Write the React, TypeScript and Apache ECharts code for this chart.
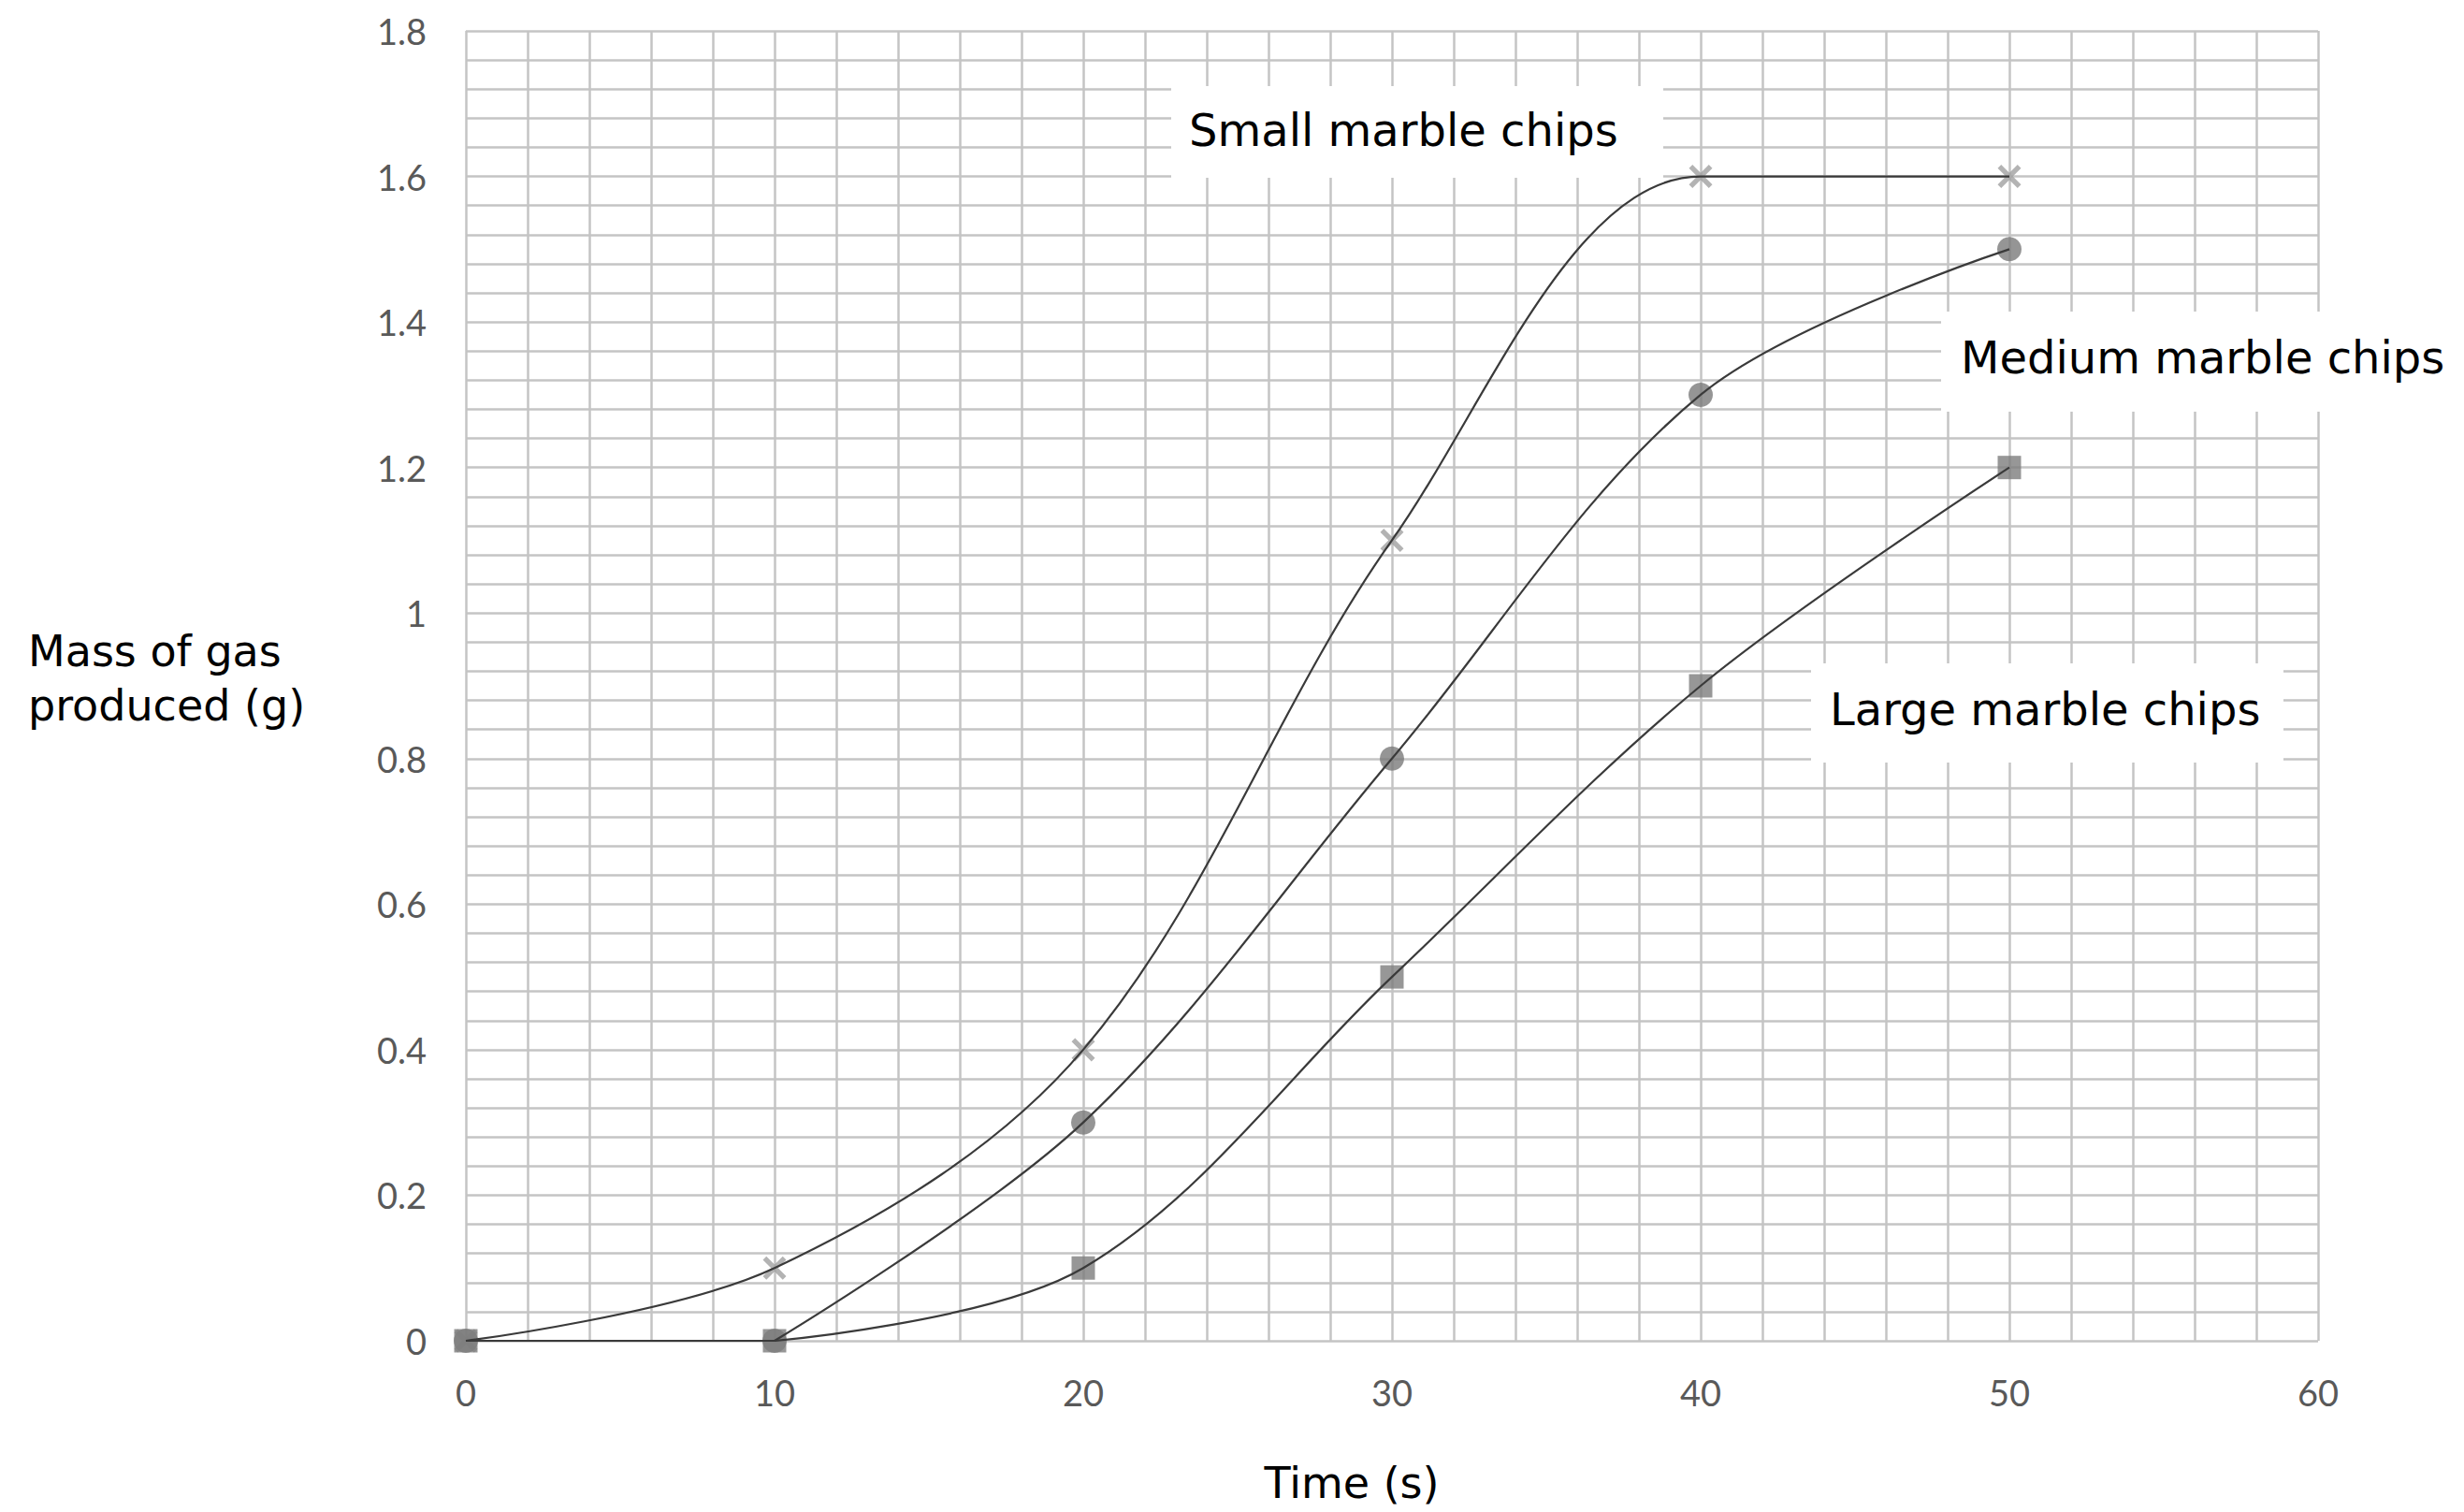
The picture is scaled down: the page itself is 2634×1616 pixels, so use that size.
import React, { useEffect, useRef } from "react";
import * as echarts from "echarts";

// ---- data ----
const times = [0, 10, 20, 30, 40, 50];
const smallChips = [0, 0.1, 0.4, 1.1, 1.6, 1.6];
const mediumChips = [0, 0, 0.3, 0.8, 1.3, 1.5];
const largeChips = [0, 0, 0.1, 0.5, 0.9, 1.2];

const seriesNames = ["Small marble chips", "Medium marble chips", "Large marble chips"];

const xMin = 0;
const xMax = 60;
const xStep = 10;
const yMin = 0;
const yMax = 1.8;
const yStep = 0.2;

const xTitle = "Time (s)";
const yTitle = "Mass of gas\nproduced (g)";

const CROSS =
  "path://M1.5,0 L5,3.5 L8.5,0 L10,1.5 L6.5,5 L10,8.5 L8.5,10 L5,6.5 L1.5,10 L0,8.5 L3.5,5 L0,1.5 Z";

function toPoints(ys: number[]) {
  return times.map((t, i) => [t, ys[i]]);
}

// split a series where its leading flat run ends
function splitLeadingFlat(ys: number[]) {
  let k = 0;
  while (k + 1 < ys.length && ys[k + 1] === ys[0]) k++;
  const pts = toPoints(ys);
  return { flat: k > 0 ? pts.slice(0, k + 1) : [], curve: pts.slice(k) };
}

export default function App() {
  const ref = useRef<HTMLDivElement>(null);

  useEffect(() => {
    if (!ref.current) return;
    const chart = echarts.init(ref.current, undefined, { renderer: "svg" });

    const lineColor = "#3a3a3a";
    const gridColor = "#c4c4c4";
    const markerDefs = [
      { ys: smallChips, symbol: CROSS, size: 25, color: "#a0a0a0" },
      { ys: mediumChips, symbol: "circle", size: 26, color: "#7a7a7a" },
      { ys: largeChips, symbol: "rect", size: 25, color: "#7d7d7d" },
    ];

    const series: any[] = [];
    markerDefs.forEach((m, i) => {
      series.push({
        name: seriesNames[i] + " points",
        type: "scatter",
        data: toPoints(m.ys),
        symbol: m.symbol,
        symbolSize: m.size,
        itemStyle: { color: m.color },
        z: 2,
      });
    });
    markerDefs.forEach((m, i) => {
      const parts = splitLeadingFlat(m.ys);
      if (parts.flat.length) {
        series.push({
          name: seriesNames[i] + " flat",
          type: "line",
          data: parts.flat,
          showSymbol: false,
          smooth: false,
          lineStyle: { color: lineColor, width: 2.2 },
          z: 3,
        });
      }
      series.push({
        name: seriesNames[i],
        type: "line",
        data: parts.curve,
        showSymbol: false,
        smooth: 0.34,
        lineStyle: { color: lineColor, width: 2.2 },
        z: 3,
      });
    });

    const labelBoxes = [
      { box: [1252, 92, 526, 98], tx: 1271, ty: 139 },
      { box: [2075, 333, 560, 107], tx: 2096, ty: 382 },
      { box: [1936, 709, 505, 106], tx: 1956, ty: 758 },
    ];

    const graphic: any[] = [];
    labelBoxes.forEach((b, i) => {
      graphic.push({
        type: "rect",
        z: 1,
        shape: { x: b.box[0], y: b.box[1], width: b.box[2], height: b.box[3] },
        style: { fill: "#ffffff" },
      });
      graphic.push({
        type: "text",
        z: 1,
        x: b.tx,
        y: b.ty,
        style: {
          text: seriesNames[i],
          fontSize: 48,
          fontFamily: "DejaVu Sans",
          fill: "#000000",
          align: "left",
          verticalAlign: "middle",
        },
      });
    });
    graphic.push({
      type: "text",
      z: 1,
      x: 30,
      y: 725,
      style: {
        text: yTitle,
        fontSize: 46,
        lineHeight: 58,
        fontFamily: "DejaVu Sans",
        fill: "#000000",
        align: "left",
        verticalAlign: "middle",
      },
    });
    graphic.push({
      type: "text",
      z: 1,
      x: 1445,
      y: 1585,
      style: {
        text: xTitle,
        fontSize: 46,
        fontFamily: "DejaVu Sans",
        fill: "#000000",
        align: "center",
        verticalAlign: "middle",
      },
    });

    chart.setOption({
      animation: false,
      backgroundColor: "#ffffff",
      grid: { left: 498, top: 33, right: 156, bottom: 183, containLabel: false },
      xAxis: {
        type: "value",
        min: xMin,
        max: xMax,
        interval: xStep,
        axisLine: { show: false },
        axisTick: { show: false },
        minorTick: { show: false, splitNumber: 5 },
        splitLine: { show: true, lineStyle: { color: gridColor, width: 2.5 } },
        minorSplitLine: { show: true, lineStyle: { color: gridColor, width: 2.5 } },
        axisLabel: {
          fontFamily: "Lato",
          fontSize: 38,
          color: "#595959",
          margin: 36,
        },
      },
      yAxis: {
        type: "value",
        min: yMin,
        max: yMax,
        interval: yStep,
        axisLine: { show: false },
        axisTick: { show: false },
        minorTick: { show: false, splitNumber: 5 },
        splitLine: { show: true, lineStyle: { color: gridColor, width: 2.5 } },
        minorSplitLine: { show: true, lineStyle: { color: gridColor, width: 2.5 } },
        axisLabel: {
          fontFamily: "Lato",
          fontSize: 38,
          color: "#595959",
          margin: 42,
        },
      },
      graphic,
      series,
    });

    return () => chart.dispose();
  }, []);

  return (
    <div
      ref={ref}
      style={{ position: "absolute", left: 0, top: 0, width: "2634px", height: "1616px" }}
    />
  );
}
